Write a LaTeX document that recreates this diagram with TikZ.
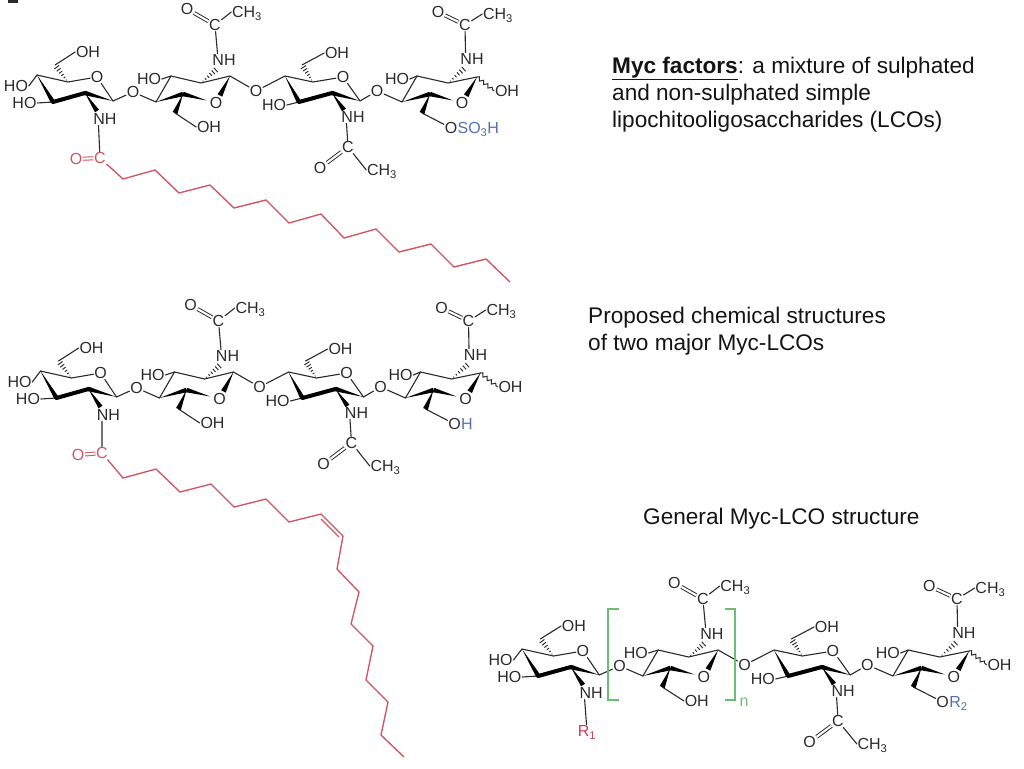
\documentclass[tikz,border=0pt]{standalone}
\usepackage{fontspec}
\setmainfont{Liberation Sans}
\usetikzlibrary{calc,decorations.pathmorphing}
\definecolor{bondc}{HTML}{2A2A2A}
\definecolor{chainred}{HTML}{CF5563}
\definecolor{labred}{HTML}{D23A55}
\definecolor{labblue}{HTML}{5570B0}
\definecolor{brgreen}{HTML}{6DBE73}
\definecolor{txtc}{HTML}{141414}
\tikzset{
  atom/.style={inner sep=0.6pt,text=bondc,text height=11.4pt,text depth=0pt,font=\fontsize{16}{17}\selectfont},
  tailtext/.style={atom,inner sep=0pt,anchor=west,xshift=-0.6pt},
  bond/.style={draw=bondc,line width=1.1pt,line cap=round},
  redbond/.style={draw=chainred,line width=1.35pt,line join=miter},
  dbl/.style={draw=bondc,double,double distance=2.1pt,line width=0.95pt},
  reddbl/.style={draw=chainred,double,double distance=2.1pt,line width=1pt},
  barbond/.style={draw=black,line width=4pt,line cap=round},
  hashline/.style={draw=bondc,line width=0.95pt},
  wavy/.style={draw=bondc,line width=1pt,decorate,decoration={snake,amplitude=1.7pt,segment length=5.5pt}},
  bracket/.style={draw=brgreen,line width=1.25pt},
  para/.style={inner sep=0pt,anchor=north west,align=left,text=txtc,font=\fontsize{22.6}{27}\selectfont}
}
\newcommand{\wedgebond}[3]{\fill[black] (#1) -- ($(#2)!#3!90:(#1)$) -- ($(#2)!#3!-90:(#1)$) -- cycle;}
\newcommand{\hashbond}[3]{%
  \foreach \hfrac in {.12,.27,.42,.57,.72,.87}{%
    \coordinate (hh) at ($(#1)!\hfrac!(#2)$);
    \pgfmathsetmacro{\hwid}{\hfrac*#3}
    \draw[hashline] ($(hh)!\hwid pt!90:(#2)$) -- ($(hh)!\hwid pt!-90:(#2)$);
  }}
% #1 prefix, #2 text set after the O of the last ring's CH2O group
\newcommand{\sugars}[2]{%
  % ring A
  \coordinate (#1a4) at (37,75); \coordinate (#1a5) at (68,82); \coordinate (#1a1) at (113,101);
  \coordinate (#1a2) at (85,93); \coordinate (#1a3) at (53,102); \coordinate (#1a6) at (55,65);
  \coordinate (#1aNw) at (97,111);
  \node[atom] (#1aO) at (97,77) {O};
  \node[atom] (#1aOH) at (88,52) {OH};
  \node[atom] (#1aHOa) at (16,86) {HO};
  \node[atom] (#1aHOb) at (24.5,103) {HO};
  \node[atom] (#1aNH) at (105,119) {NH};
  \node[atom] (#1lka) at (133,92) {O};
  % ring B
  \coordinate (#1b4) at (156,102); \coordinate (#1b3) at (171,76); \coordinate (#1b2) at (201,83);
  \coordinate (#1b1) at (230,76); \coordinate (#1b5) at (183,94); \coordinate (#1b6) at (175,113);
  \coordinate (#1bNw) at (218,68);
  \node[atom] (#1bO) at (216,103) {O};
  \node[atom] (#1bHO) at (149,79) {HO};
  \node[atom] (#1bOH) at (209,127) {OH};
  \node[atom] (#1bNH) at (224,60) {NH};
  \node[atom] (#1bC) at (215,25) {C};
  \node[atom] (#1bdO) at (187,9) {O};
  \node[atom] (#1bCH) at (247,12) {CH\textsubscript{3}};
  \node[atom] (#1lkb) at (256,91) {O};
  % ring C
  \coordinate (#1c4) at (285,76); \coordinate (#1c5) at (313,82); \coordinate (#1c1) at (360,101);
  \coordinate (#1c2) at (332,93); \coordinate (#1c3) at (299,102); \coordinate (#1c6) at (302,65);
  \coordinate (#1cNw) at (344,110);
  \node[atom] (#1cO) at (343,77) {O};
  \node[atom] (#1cOH) at (337,53) {OH};
  \node[atom] (#1cHO) at (274,105) {HO};
  \node[atom] (#1cNH) at (353,117) {NH};
  \node[atom] (#1cC) at (348,147) {C};
  \node[atom] (#1cdO) at (320,168) {O};
  \node[atom] (#1cCH) at (382,170) {CH\textsubscript{3}};
  \node[atom] (#1lkc) at (377,91) {O};
  % ring D
  \coordinate (#1d4) at (402,102); \coordinate (#1d3) at (417,76); \coordinate (#1d2) at (448,83);
  \coordinate (#1d1) at (477,77); \coordinate (#1d5) at (430,94); \coordinate (#1d6) at (422,113);
  \coordinate (#1dNw) at (466,67);
  \node[atom] (#1dO) at (462,103) {O};
  \node[atom] (#1dHO) at (397,79) {HO};
  \node[atom] (#1dOH) at (507,91) {OH};
  \node[atom] (#1dOs) at (451,128) {O};
  \node[tailtext] (#1dtail) at (#1dOs.east) {#2};
  \node[atom] (#1dNH) at (472,59) {NH};
  \node[atom] (#1dC) at (465,25) {C};
  \node[atom] (#1ddO) at (438,12) {O};
  \node[atom] (#1dCH) at (498,14) {CH\textsubscript{3}};
  % wedge ends next to the ring oxygens
  \coordinate (#1bOa) at ($(#1b5)!.72!(#1bO)$); \coordinate (#1bOb) at ($(#1b1)!.72!(#1bO)$);
  \coordinate (#1dOa) at ($(#1d5)!.72!(#1dO)$); \coordinate (#1dOb) at ($(#1d1)!.72!(#1dO)$);
  % plain bonds
  \draw[bond] (#1a4) -- (#1a5) -- (#1aO) -- (#1a1) -- (#1lka) -- (#1b4) -- (#1b3) -- (#1b2) -- (#1b1) -- (#1lkb) -- (#1c4) -- (#1c5) -- (#1cO) -- (#1c1) -- (#1lkc) -- (#1d4) -- (#1d3) -- (#1d2) -- (#1d1);
  \draw[bond] (#1a4) -- (#1aHOa.east);
  \draw[bond] (#1a3) -- (#1aHOb.east);
  \draw[bond] (#1a6) -- (#1aOH.west);
  \draw[bond] (#1b3) -- (#1bHO.east);
  \draw[bond] (#1b6) -- (#1bOH.west);
  \draw[bond] (#1bNH.135) -- (#1bC);
  \draw[dbl] (#1bdO) -- (#1bC);
  \draw[bond] (#1bC) -- (#1bCH.west);
  \draw[bond] (#1c3) -- (#1cHO.east);
  \draw[bond] (#1c6) -- (#1cOH.west);
  \draw[bond] (#1cNH.-135) -- (#1cC);
  \draw[dbl] (#1cdO) -- (#1cC);
  \draw[bond] (#1cC) -- (#1cCH.west);
  \draw[bond] (#1d3) -- (#1dHO.east);
  \draw[bond] (#1d6) -- (#1dOs);
  \draw[bond] (#1dNH.135) -- (#1dC);
  \draw[dbl] (#1ddO) -- (#1dC);
  \draw[bond] (#1dC) -- (#1dCH.west);
  \draw[wavy] (#1d1) -- (#1dOH.west);
  % ring A and C bold front edges
  \wedgebond{#1a4}{#1a3}{2.3pt} \draw[barbond] (#1a3) -- (#1a2); \wedgebond{#1a1}{#1a2}{2.3pt}
  \wedgebond{#1a2}{#1aNw}{2.4pt} \hashbond{#1a5}{#1a6}{3.4}
  \wedgebond{#1c4}{#1c3}{2.3pt} \draw[barbond] (#1c3) -- (#1c2); \wedgebond{#1c1}{#1c2}{2.3pt}
  \wedgebond{#1c2}{#1cNw}{2.4pt} \hashbond{#1c5}{#1c6}{3.4}
  % ring B and D bold front edges
  \wedgebond{#1b4}{#1b5}{2.3pt} \wedgebond{#1bOa}{#1b5}{2.3pt}
  \wedgebond{#1b5}{#1b6}{2.6pt} \wedgebond{#1b1}{#1bOb}{2.6pt} \hashbond{#1b2}{#1bNw}{3.4}
  \wedgebond{#1d4}{#1d5}{2.3pt} \wedgebond{#1dOa}{#1d5}{2.3pt}
  \wedgebond{#1d5}{#1d6}{2.6pt} \wedgebond{#1d1}{#1dOb}{2.6pt} \hashbond{#1d2}{#1dNw}{3.4}
}
\begin{document}
\begin{tikzpicture}[x=1pt,y=-1pt]
\useasboundingbox (0,0) rectangle (1024,768);
\fill[bondc] (8,0) rectangle (18,3.5);

% molecule 1
\begin{scope}
  \sugars{p}{\textcolor{labblue}{SO\textsubscript{3}H}}
  \node[atom,text=chainred] (pRC) at (100,158) {C};
  \node[atom,text=chainred] (pRO) at (76,159) {O};
  \draw[bond] (paNH.-135) -- (pRC);
  \draw[reddbl] (pRO) -- (pRC);
  \draw[redbond] (pRC) -- (123,179) -- (155,170) -- (179,193) -- (210,185) -- (234,208) -- (266,200) -- (289,223) -- (321,214) -- (344,238) -- (376,229) -- (399,252) -- (431,244) -- (454,267) -- (486,259) -- (510,282);
\end{scope}

% molecule 2
\begin{scope}[shift={(3.5,296)}]
  \sugars{q}{\textcolor{labblue}{H}}
  \node[atom,text=chainred] (qRC) at (98.5,157) {C};
  \node[atom,text=chainred] (qRO) at (74.5,159) {O};
  \draw[bond] (qaNH.-135) -- (qRC);
  \draw[reddbl] (qRO) -- (qRC);
\end{scope}
\draw[redbond] (qRC) -- (123,478) -- (156,469) -- (180,492) -- (211,484) -- (234,507) -- (266,499) -- (289,522) -- (321,514) -- (343,536) -- (337,569) -- (359,592) -- (351,624) -- (373,646) -- (366,680) -- (388,702) -- (381,735) -- (404,757);
\draw[redbond] (321,519) -- (339,537);

% molecule 3
\begin{scope}[shift={(484.4,574)},xscale=1.016]
  \sugars{r}{\textcolor{labblue}{R\textsubscript{2}}}
  \node[atom,text=labred] (rRa) at (101,157) {R\textsubscript{1}};
  \draw[bond] (raNH.-135) -- (rRa);
\end{scope}
\draw[bracket] (619,609) -| (608,700) -- (619,700);
\draw[bracket] (725,609) -| (735,700) -- (725,700);
\node[atom,text=brgreen] (nlabel) at (744,701) {n};

% captions
\node[para] (t1) at (612,57) {\underline{\textbf{Myc factors}}: a mixture of sulphated\\and non-sulphated simple\\lipochitooligosaccharides (LCOs)};
\node[para] (t2) at (588,307) {Proposed chemical structures\\of two major Myc-LCOs};
\node[para] (t3) at (643,508) {General Myc-LCO structure};
\end{tikzpicture}
\end{document}
